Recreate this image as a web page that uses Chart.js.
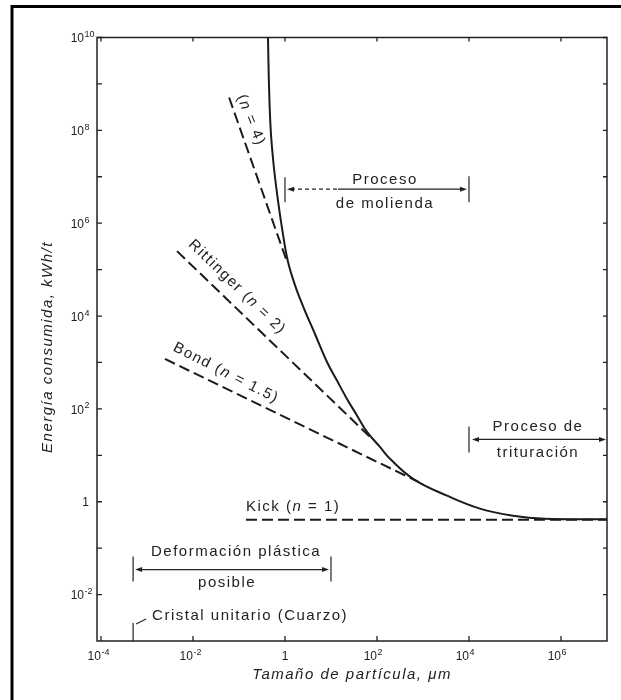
<!DOCTYPE html>
<html>
<head>
<meta charset="utf-8">
<script src="https://cdn.jsdelivr.net/npm/chart.js@4.4.1/dist/chart.umd.min.js"></script>
<style>
  html, body { margin: 0; padding: 0; background: #fff; }
  canvas { display: block; }
</style>
</head>
<body>
<canvas id="myChart" width="621" height="700"></canvas>
<script>
// curva de energia real (linea continua)
var curvaX = [0.427, 0.449, 0.489, 0.565, 0.684, 0.869, 1.156, 1.65, 2.46, 4.49, 8.19, 13.5, 22.3, 36.7, 60.7, 116, 192, 607, 3330, 17300, 90400, 449000, 1e7];
var curvaE = [1e10, 9.75e8, 1.05e8, 1.86e7, 3.81e6, 7.43e5, 1.52e5, 4.64e4, 1.64e4, 4100, 1025, 407, 164, 72.4, 32, 15.2, 8.4, 3.12, 1.35, 0.71, 0.50, 0.43, 0.42];

// leyes (lineas a trazos)
var n4X = [0.061, 1.1];
var n4E = [5.1e8, 1.5e5];
var rittingerX = [0.0045, 78];
var rittingerE = [2.5e5, 22.6];
var bondX = [0.00246, 778];
var bondE = [1190, 2.7];
var kickX = [0.142, 1e7];
var kickE = [0.41, 0.41];

// ejes
var xTickExp = [-4, -2, 0, 2, 4, 6];
var yTickExp = [10, 8, 6, 4, 2, 0, -2];
var yMinorExp = [9, 7, 5, 3, 1, -1];

// rangos de los procesos (um)
var moliendaRange = [1, 1e4];
var trituracionRange = [1e4, 1e7];
var deformacionRange = [5e-4, 10];
var cristalSize = 5e-4;

var FONT = '"Liberation Sans", Arial, sans-serif';
var INK = '#222';

function toPoints(xs, ys) {
  var out = [];
  for (var i = 0; i < xs.length; i++) {
    out.push({x: xs[i], y: ys[i]});
  }
  return out;
}

function linea(data, dash) {
  return {
    data: data,
    showLine: true,
    borderColor: '#1b1b1b',
    borderWidth: 2,
    borderDash: dash,
    pointRadius: 0,
    fill: false
  };
}

// texto con partes en cursiva
function texto(c, partes, x, y, align, size) {
  var total = 0;
  partes.forEach(function(p) {
    c.font = (p[1] ? 'italic ' : '') + size + 'px ' + FONT;
    total += c.measureText(p[0]).width;
  });
  var start = x;
  if (align === 'center') start = x - total / 2;
  if (align === 'right') start = x - total;
  c.textAlign = 'left';
  partes.forEach(function(p) {
    c.font = (p[1] ? 'italic ' : '') + size + 'px ' + FONT;
    c.fillText(p[0], start, y);
    start += c.measureText(p[0]).width;
  });
}

function punta(c, x, y, dir) {
  c.beginPath();
  c.moveTo(x, y);
  c.lineTo(x - dir * 7, y - 2.5);
  c.lineTo(x - dir * 7, y + 2.5);
  c.closePath();
  c.fill();
}

function barra(c, x, y1, y2) {
  c.beginPath();
  c.moveTo(x, y1);
  c.lineTo(x, y2);
  c.stroke();
}

var marco = {
  id: 'marco',
  afterDraw: function(chart) {
    var c = chart.ctx, a = chart.chartArea;
    var sx = chart.scales.x, sy = chart.scales.y;
    c.save();
    c.fillStyle = INK;
    c.strokeStyle = INK;
    c.textBaseline = 'middle';

    // borde exterior
    c.strokeStyle = '#000';
    c.lineWidth = 3;
    c.beginPath();
    c.moveTo(12, 700);
    c.lineTo(12, 6.5);
    c.lineTo(621, 6.5);
    c.stroke();

    // recuadro
    c.strokeStyle = INK;
    c.lineWidth = 1.5;
    c.strokeRect(a.left, a.top, a.right - a.left, a.bottom - a.top);

    // marcas eje y
    c.lineWidth = 1.3;
    yTickExp.concat(yMinorExp).forEach(function(e) {
      var py = sy.getPixelForValue(Math.pow(10, e));
      c.beginPath();
      c.moveTo(a.left, py); c.lineTo(a.left + 5, py);
      c.moveTo(a.right, py); c.lineTo(a.right - 4, py);
      c.stroke();
    });
    // marcas eje x
    xTickExp.forEach(function(e) {
      var px = sx.getPixelForValue(Math.pow(10, e));
      c.beginPath();
      c.moveTo(px, a.bottom); c.lineTo(px, a.bottom - 5);
      c.moveTo(px, a.top); c.lineTo(px, a.top + 4);
      c.stroke();
    });

    // etiquetas eje y
    yTickExp.forEach(function(e) {
      var py = sy.getPixelForValue(Math.pow(10, e));
      c.font = '12px ' + FONT;
      if (e === 0) {
        c.textAlign = 'right';
        c.fillText('1', 89, py + 1);
      } else {
        c.textAlign = 'right';
        c.fillText('10', 84, py + 1.5);
        c.textAlign = 'left';
        c.font = '9px ' + FONT;
        c.fillText(String(e), 84.5, py - 3);
      }
    });
    // etiquetas eje x
    xTickExp.forEach(function(e) {
      var px = sx.getPixelForValue(Math.pow(10, e));
      var py = a.bottom + 16;
      c.font = '12px ' + FONT;
      if (e === 0) {
        c.textAlign = 'center';
        c.fillText('1', px, py);
      } else {
        c.textAlign = 'right';
        c.fillText('10', px, py);
        c.textAlign = 'left';
        c.font = '9px ' + FONT;
        c.fillText(String(e), px + 0.5, py - 4.5);
      }
    });

    c.letterSpacing = '1.5px';

    // titulos de ejes
    texto(c, [['Tamaño de partícula, μm', true]], 352, 675, 'center', 15);
    c.save();
    c.translate(48, 347);
    c.rotate(-Math.PI / 2);
    texto(c, [['Energía consumida, kWh/t', true]], 0, 0, 'center', 15);
    c.restore();

    // etiquetas de las leyes
    var rot = [
      [[['(', false], ['n', true], [' = 4)', false]], 0.182, 1.64e8, 68],
      [[['Rittinger (', false], ['n', true], [' = 2)', false]], 0.0912, 4.2e4, 44],
      [[['Bond (', false], ['n', true], [' = 1.5)', false]], 0.0521, 594, 27]
    ];
    rot.forEach(function(r) {
      c.save();
      c.translate(sx.getPixelForValue(r[1]), sy.getPixelForValue(r[2]));
      c.rotate(r[3] * Math.PI / 180);
      texto(c, r[0], 0, 0, 'center', 15);
      c.restore();
    });
    texto(c, [['Kick (', false], ['n', true], [' = 1)', false]],
      sx.getPixelForValue(kickX[0]), sy.getPixelForValue(kickE[0]) - 13, 'left', 15);

    c.lineWidth = 1.2;

    // proceso de molienda
    var m1 = sx.getPixelForValue(moliendaRange[0]);
    var m2 = sx.getPixelForValue(moliendaRange[1]);
    var my = sy.getPixelForValue(5.4e6);
    barra(c, m1, my - 12, my + 13);
    barra(c, m2, my - 13, my + 13);
    c.setLineDash([4, 3]);
    c.beginPath(); c.moveTo(m1 + 6, my); c.lineTo(m1 + 53, my); c.stroke();
    c.setLineDash([]);
    c.beginPath(); c.moveTo(m1 + 53, my); c.lineTo(m2 - 6, my); c.stroke();
    punta(c, m1 + 2, my, -1);
    punta(c, m2 - 2, my, 1);
    texto(c, [['Proceso', false]], (m1 + m2) / 2 + 8, my - 9, 'center', 15);
    texto(c, [['de molienda', false]], (m1 + m2) / 2 + 8, my + 15, 'center', 15);

    // proceso de trituracion
    var t1 = sx.getPixelForValue(trituracionRange[0]);
    var t2 = sx.getPixelForValue(trituracionRange[1]);
    var ty = sy.getPixelForValue(22);
    barra(c, t1, ty - 13, ty + 13);
    c.beginPath(); c.moveTo(t1 + 6, ty); c.lineTo(t2 - 6, ty); c.stroke();
    punta(c, t1 + 3, ty, -1);
    punta(c, t2 - 1, ty, 1);
    texto(c, [['Proceso de', false]], (t1 + t2) / 2, ty - 13, 'center', 15);
    texto(c, [['trituración', false]], (t1 + t2) / 2, ty + 13, 'center', 15);

    // deformacion plastica
    var d1 = sx.getPixelForValue(deformacionRange[0]);
    var d2 = sx.getPixelForValue(deformacionRange[1]);
    var dy = sy.getPixelForValue(0.0345);
    barra(c, d1, dy - 13, dy + 12);
    barra(c, d2, dy - 13, dy + 12);
    c.beginPath(); c.moveTo(d1 + 6, dy); c.lineTo(d2 - 6, dy); c.stroke();
    punta(c, d1 + 2, dy, -1);
    punta(c, d2 - 2, dy, 1);
    texto(c, [['Deformación plástica', false]], (d1 + d2) / 2 + 4, dy - 18, 'center', 15);
    texto(c, [['posible', false]], (d1 + d2) / 2 - 5, dy + 13, 'center', 15);

    // cristal unitario
    var cx = sx.getPixelForValue(cristalSize);
    barra(c, cx, a.bottom - 18, a.bottom);
    c.beginPath(); c.moveTo(cx + 3, a.bottom - 17); c.lineTo(cx + 13, a.bottom - 22); c.stroke();
    texto(c, [['Cristal unitario (Cuarzo)', false]], cx + 19, a.bottom - 25, 'left', 15);

    c.restore();
  }
};

var ctx = document.getElementById('myChart');
var myChart = new Chart(ctx, {
  type: 'scatter',
  data: {
    datasets: [
      Object.assign(linea(toPoints(curvaX, curvaE), []), {tension: 0.4}),
      linea(toPoints(n4X, n4E), [11, 5]),
      linea(toPoints(rittingerX, rittingerE), [11, 5]),
      linea(toPoints(bondX, bondE), [11, 5]),
      linea(toPoints(kickX, kickE), [11, 5])
    ]
  },
  options: {
    responsive: false,
    animation: false,
    layout: { padding: { left: 97, top: 37.5, right: 14, bottom: 59 } },
    plugins: {
      legend: { display: false },
      tooltip: { enabled: false }
    },
    scales: {
      x: { type: 'logarithmic', display: false, min: 8.2e-5, max: 1e7 },
      y: { type: 'logarithmic', display: false, min: 1e-3, max: 1e10 }
    }
  },
  plugins: [marco]
});
</script>
</body>
</html>
